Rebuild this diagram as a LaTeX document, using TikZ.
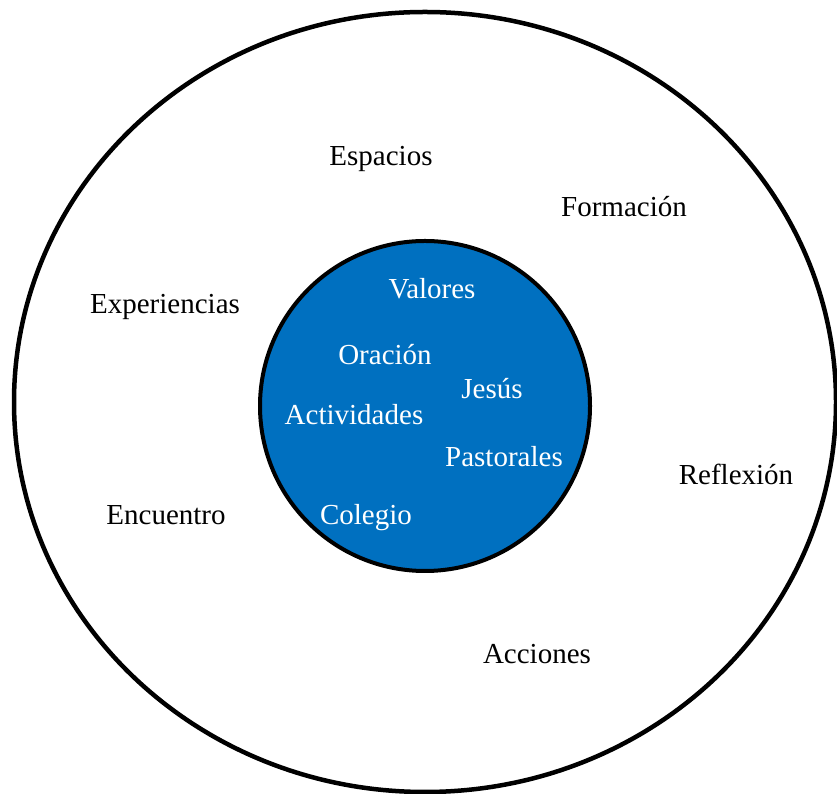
\documentclass[tikz,border=0pt]{standalone}
\usepackage{fontspec}
\setmainfont{Liberation Serif}
\definecolor{coreblue}{HTML}{0070C0}
\begin{document}
\begin{tikzpicture}[x=1pt,y=1pt,
  lbl/.style={anchor=base,inner sep=0pt,font=\fontsize{29}{34}\selectfont,text=black},
  corelbl/.style={lbl,text=white}]
\useasboundingbox (0,0) rectangle (837,794);
% outer ring
\draw[line width=4.5pt] (425,392) ellipse [x radius=411, y radius=390];
% inner core
\draw[line width=4pt,fill=coreblue] (425,388) circle [radius=165];
% outer labels
\node[lbl] (espacios) at (381,628) {Espacios};
\node[lbl] (formacion) at (624,577) {Formación};
\node[lbl] (experiencias) at (165,480) {Experiencias};
\node[lbl] (encuentro) at (166,269) {Encuentro};
\node[lbl] (reflexion) at (736,309) {Reflexión};
\node[lbl] (acciones) at (537,130) {Acciones};
% core labels
\node[corelbl] (valores) at (432,495) {Valores};
\node[corelbl] (oracion) at (385,429) {Oración};
\node[corelbl] (jesus) at (492,395) {Jesús};
\node[corelbl] (actividades) at (354,369) {Actividades};
\node[corelbl] (pastorales) at (504,327) {Pastorales};
\node[corelbl] (colegio) at (366,269) {Colegio};
\end{tikzpicture}
\end{document}
